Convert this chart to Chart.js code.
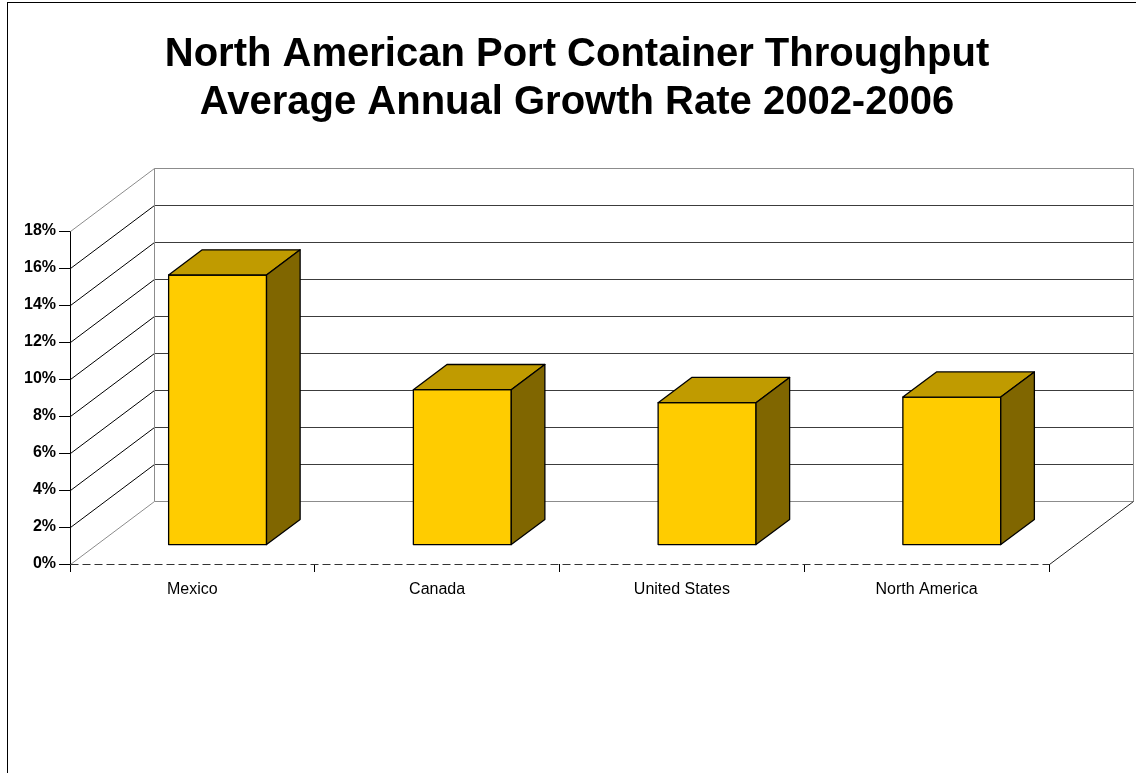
<!DOCTYPE html>
<html>
<head>
<meta charset="utf-8">
<title>North American Port Container Throughput</title>
<script src="https://cdn.jsdelivr.net/npm/chart.js@4"></script>
<style>
    html, body { margin: 0; padding: 0; background: #ffffff; }
    canvas { display: block; }
</style>
</head>
<body>
<canvas id="ChartCanvas" width="1136" height="773"></canvas>
<script>
// Chart data
const titleLines = ['North American Port Container Throughput', 'Average Annual Growth Rate 2002-2006'];
const categories = ['Mexico', 'Canada', 'United States', 'North America'];
const growthRates = [14.6, 8.4, 7.7, 8.0];   // percent
const yAxisMax = 18;
const yAxisStep = 2;

// Look of the fake 3D box
const DEPTH_X = 84, DEPTH_Y = -63;     // front plane -> back wall
const BAR_FRONT = 0.3, BAR_DEPTH = 0.4; // bar position inside the depth
const FRONT_COLOR = '#FFCC00';
const TOP_COLOR = '#C09B00';
const SIDE_COLOR = '#806600';
const FONT = '"Liberation Sans", Arial, sans-serif';

function line(ctx, x1, y1, x2, y2, color)
{
    ctx.strokeStyle = color;
    ctx.beginPath();
    ctx.moveTo(x1, y1);
    ctx.lineTo(x2, y2);
    ctx.stroke();
}

// Draws the walls and floor behind the bars
const walls3d = {
    id: 'walls3d',
    beforeDatasetsDraw(chart)
    {
        const ctx = chart.ctx;
        const area = chart.chartArea;
        const y = chart.scales.y;
        const left = Math.round(area.left) + 0.5;
        const right = Math.round(area.right) + 0.5;
        const backLeft = left + DEPTH_X;
        const backRight = right + DEPTH_X;

        ctx.save();
        ctx.lineWidth = 1;

        y.ticks.forEach(t => {
            const fy = Math.round(y.getPixelForValue(t.value)) + 0.5;
            const by = fy + DEPTH_Y;
            const edge = (t.value === 0 || t.value === yAxisMax);
            // back wall line
            line(ctx, backLeft, by, backRight, by, edge ? '#8c8c8c' : '#3c3c3c');
            // left side wall diagonal
            line(ctx, left, fy, backLeft, by, edge ? '#8c8c8c' : '#000000');
        });

        const top = Math.round(y.getPixelForValue(yAxisMax)) + 0.5 + DEPTH_Y;
        const floorBack = Math.round(y.getPixelForValue(0)) + 0.5 + DEPTH_Y;
        line(ctx, backLeft, top, backLeft, floorBack, '#8c8c8c');
        line(ctx, backRight, top, backRight, floorBack, '#8c8c8c');

        // floor right edge
        const floorFront = Math.round(y.getPixelForValue(0)) + 0.5;
        line(ctx, right, floorFront, backRight, floorBack, '#222222');

        // floor front edge, dashed
        ctx.setLineDash([8, 4]);
        line(ctx, left, floorFront, right, floorFront, '#333333');
        ctx.setLineDash([]);

        ctx.restore();
    },

    // Draws each bar as a box
    afterDatasetsDraw(chart)
    {
        const ctx = chart.ctx;
        const meta = chart.getDatasetMeta(0);
        const ox = DEPTH_X * BAR_FRONT, oy = DEPTH_Y * BAR_FRONT;
        const dx = DEPTH_X * BAR_DEPTH, dy = DEPTH_Y * BAR_DEPTH;

        ctx.save();
        ctx.lineWidth = 1.3;
        ctx.strokeStyle = '#000000';
        ctx.lineJoin = 'round';

        meta.data.forEach(bar => {
            const p = bar.getProps(['x', 'y', 'base', 'width'], true);
            const l = p.x - p.width / 2 + ox;
            const r = p.x + p.width / 2 + ox;
            const t = p.y + oy;
            const b = p.base + oy;

            // front
            ctx.fillStyle = FRONT_COLOR;
            ctx.beginPath();
            ctx.rect(l, t, r - l, b - t);
            ctx.fill();
            ctx.stroke();

            // top
            ctx.fillStyle = TOP_COLOR;
            ctx.beginPath();
            ctx.moveTo(l, t);
            ctx.lineTo(l + dx, t + dy);
            ctx.lineTo(r + dx, t + dy);
            ctx.lineTo(r, t);
            ctx.closePath();
            ctx.fill();
            ctx.stroke();

            // right side
            ctx.fillStyle = SIDE_COLOR;
            ctx.beginPath();
            ctx.moveTo(r, t);
            ctx.lineTo(r + dx, t + dy);
            ctx.lineTo(r + dx, b + dy);
            ctx.lineTo(r, b);
            ctx.closePath();
            ctx.fill();
            ctx.stroke();
        });

        ctx.restore();
    },

    // Title and outer frame
    afterDraw(chart)
    {
        const ctx = chart.ctx;
        ctx.save();
        ctx.strokeStyle = '#000000';
        ctx.lineWidth = 1;
        ctx.strokeRect(7.5, 2.5, 1200, 900);

        ctx.fillStyle = '#000000';
        ctx.font = 'bold 40px ' + FONT;
        ctx.textAlign = 'center';
        ctx.textBaseline = 'alphabetic';
        ctx.fillText(titleLines[0], 577, 66);
        ctx.fillText(titleLines[1], 577, 114);
        ctx.restore();
    }
};

const chart = new Chart(document.getElementById('ChartCanvas'), {
    type: 'bar',
    data: {
        labels: categories,
        datasets: [{
            label: 'Average annual growth',
            data: growthRates,
            backgroundColor: 'rgba(0, 0, 0, 0)',
            borderWidth: 0,
            categoryPercentage: 1.0,
            barPercentage: 0.4
        }]
    },
    options: {
        responsive: false,
        animation: false,
        layout: {
            padding: { top: 231, left: 0, right: 87, bottom: 0 }
        },
        plugins: {
            legend: { display: false },
            title: { display: false },
            tooltip: { enabled: false }
        },
        scales: {
            x: {
                offset: true,
                grid: {
                    offset: true,
                    drawOnChartArea: false,
                    drawTicks: true,
                    tickLength: 8,
                    color: '#000000'
                },
                border: { display: false },
                ticks: {
                    color: '#000000',
                    padding: 8,
                    font: { family: FONT, size: 16 }
                },
                afterFit(scale) { scale.height = 209; }
            },
            y: {
                min: 0,
                max: yAxisMax,
                grid: {
                    drawOnChartArea: false,
                    drawTicks: true,
                    tickLength: 11,
                    color: '#000000'
                },
                border: { display: true, color: '#000000' },
                ticks: {
                    stepSize: yAxisStep,
                    color: '#000000',
                    padding: 3,
                    font: { family: FONT, size: 16, weight: 'bold' },
                    callback: v => v + '%'
                },
                afterFit(scale) { scale.width = 70; }
            }
        }
    },
    plugins: [walls3d]
});
</script>
</body>
</html>
